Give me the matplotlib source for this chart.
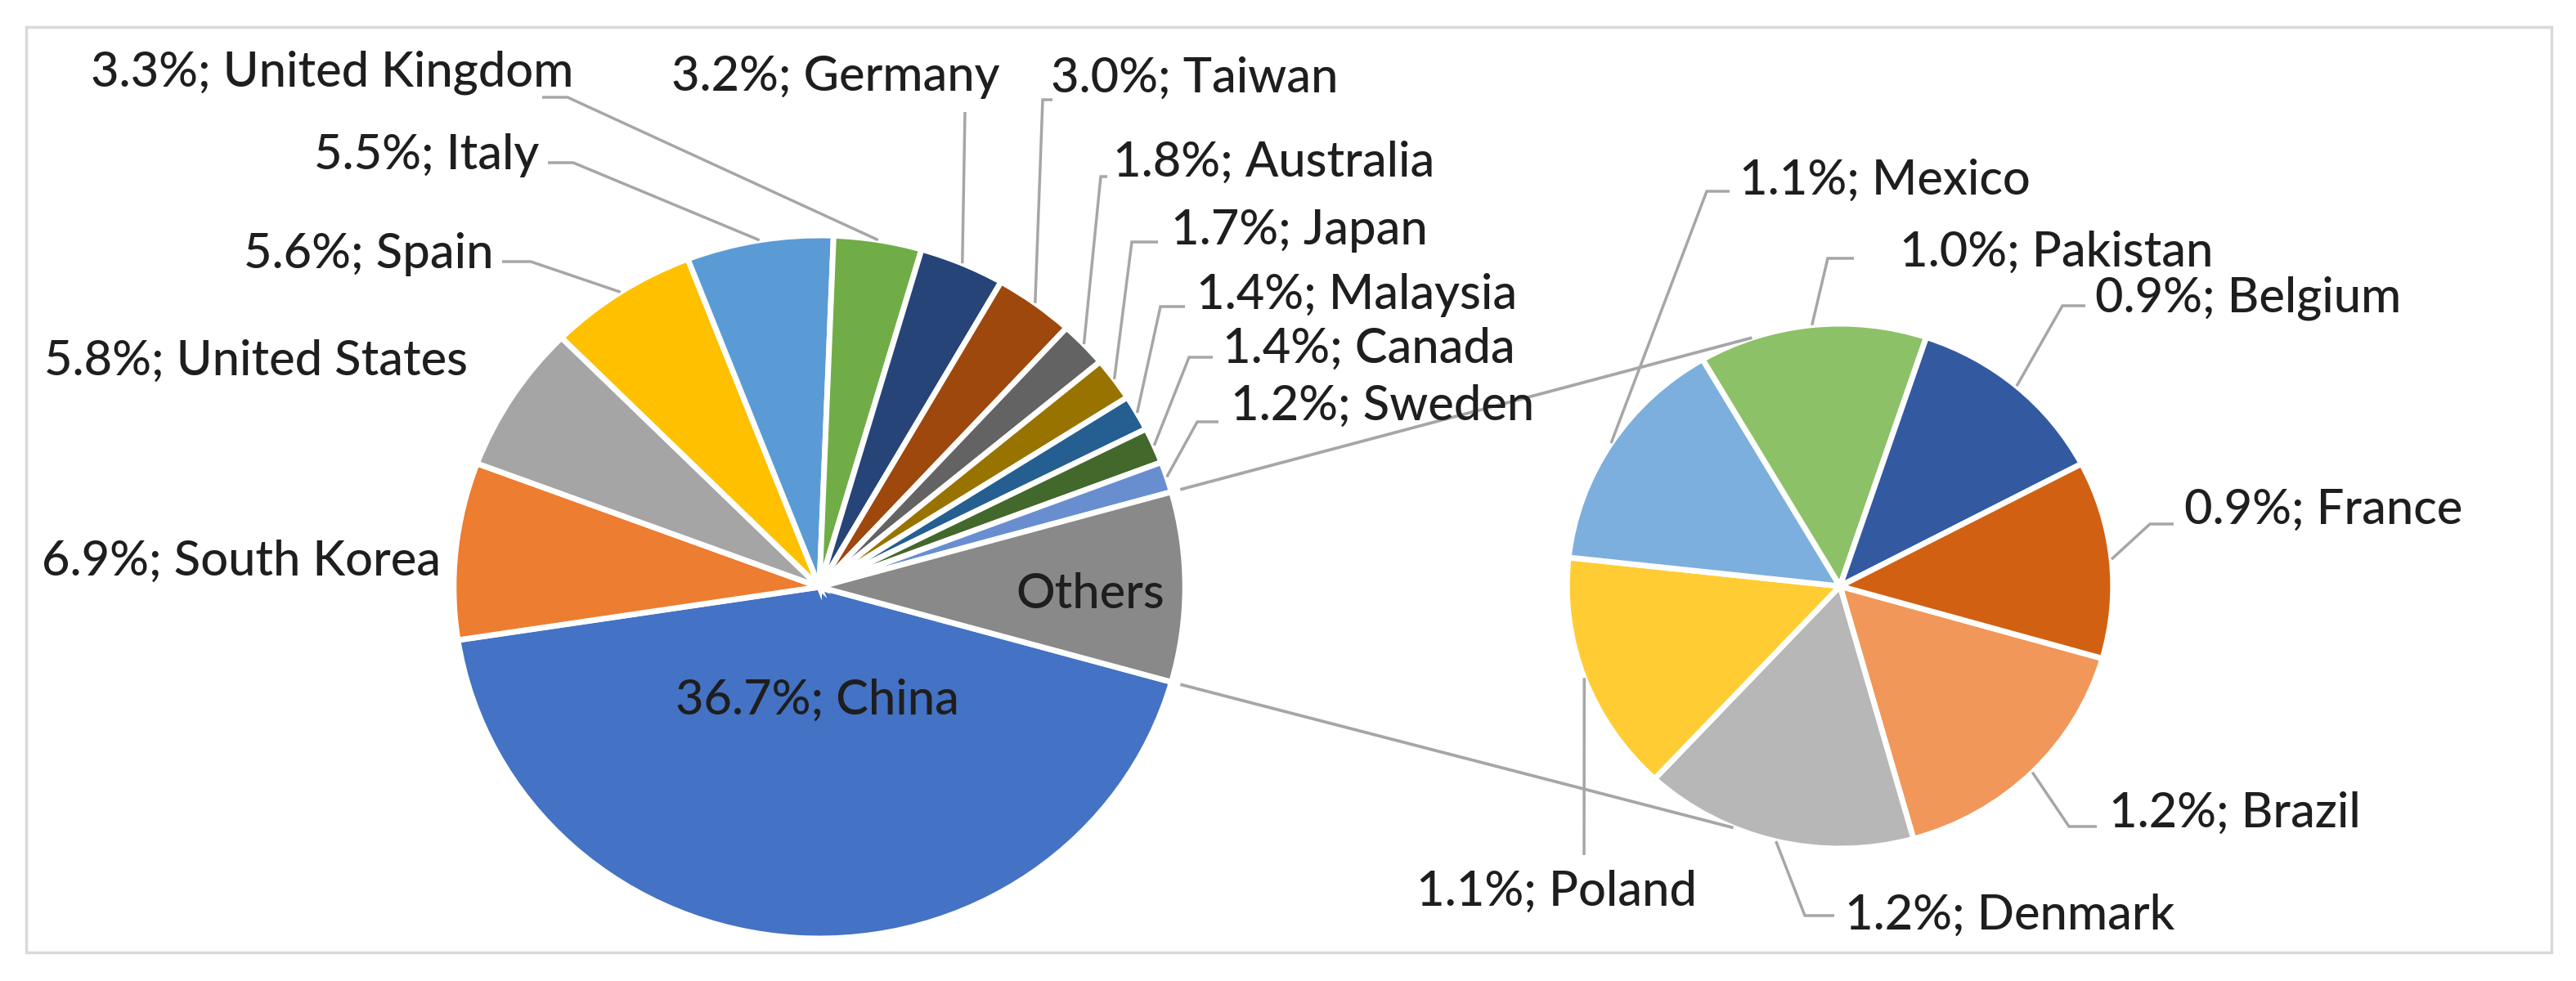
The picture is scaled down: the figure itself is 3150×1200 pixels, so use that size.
import matplotlib
matplotlib.use("Agg")
import matplotlib.pyplot as plt
from matplotlib.patches import Rectangle
import numpy as np

# ---------------- data ----------------
main_countries = ["China", "South Korea", "United States", "Spain", "Italy",
                  "United Kingdom", "Germany", "Taiwan", "Australia", "Japan",
                  "Malaysia", "Canada", "Sweden"]
main_shares = [36.7, 6.9, 5.8, 5.6, 5.5, 3.3, 3.2, 3.0, 1.8, 1.7, 1.4, 1.4, 1.2]
others_name = "Others"
sub_countries = ["Brazil", "Denmark", "Poland", "Mexico", "Pakistan", "Belgium", "France"]
sub_shares = [1.2, 1.2, 1.1, 1.1, 1.0, 0.9, 0.9]

# ---------------- style ----------------
main_colors = ["#4472C4", "#ED7D31", "#A5A5A5", "#FFC000", "#5B9BD5", "#70AD47",
               "#264478", "#9E480E", "#636363", "#997300", "#255E91", "#43682B",
               "#698ED0"]
others_color = "#898989"
sub_colors = ["#F1975A", "#B7B7B7", "#FFCD33", "#7CAFDD", "#8CC168", "#335AA1", "#D26012"]
TEXT_COLOR = "#1E1E1E"
LINE_COLOR = "#A6A6A6"
FONT = ["Lato", "DejaVu Sans"]

# ---------------- layout (pixel coordinates of the reference) ----------------
W, H = 3150, 1200
SX = 1.04                      # slight horizontal stretch seen in the reference
MAIN_C, MAIN_R = (1002, 718), 430
SUB_C, SUB_R = (2250, 717), 321
SUB_START = -16
CONNECT_ANGLES = (108.8, -113.0)

# label placement: anchor (x, y-centre), alignment, leader points near label
main_layout = {
    "China":          ((999, 853), "center", None),
    "South Korea":    ((539, 683), "right", None),
    "United States":  ((572, 438), "right", None),
    "Spain":          ((603, 307), "right", [(614, 320), (649, 320)]),
    "Italy":          ((659, 186), "right", [(670, 199), (701, 199)]),
    "United Kingdom": ((701, 85), "right", [(663, 119), (694, 119)]),
    "Germany":        ((821, 90), "left", [(1180, 137)]),
    "Taiwan":         ((1285, 92), "left", [(1287, 122), (1275, 122)]),
    "Australia":      ((1361, 195), "left", [(1354, 216), (1346, 216)]),
    "Japan":          ((1432, 278), "left", [(1416, 296), (1384, 296)]),
    "Malaysia":       ((1463, 357), "left", [(1449, 375), (1419, 375)]),
    "Canada":         ((1495, 423), "left", [(1483, 437), (1454, 437)]),
    "Sweden":         ((1505, 493), "left", [(1490, 516), (1464, 516)]),
    "Others":         ((1333, 723), "center", None),
}
sub_layout = {
    "Brazil":   ((2579, 991), "left", [(2564, 1011), (2530, 1011)]),
    "Denmark":  ((2256, 1116), "left", [(2243, 1120), (2207, 1120)]),
    "Poland":   ((1903, 1087), "center", [(1937, 1046)]),
    "Mexico":   ((2127, 217), "left", [(2115, 234), (2087, 234)]),
    "Pakistan": ((2323, 305), "left", [(2267, 316), (2235, 316)]),
    "Belgium":  ((2562, 360), "left", [(2550, 374), (2522, 374)]),
    "France":   ((2671, 620), "left", [(2658, 641), (2629, 641)]),
}


def P(x, y):
    return (x / SX, H - y)


fig = plt.figure(figsize=(W / 100, H / 100), dpi=100)
fig.patch.set_facecolor("white")
ax = fig.add_axes([0, 0, 1, 1])

# calibrate font size to the reference text width
probe = ax.text(0, 0, "3.3%; United Kingdom", fontsize=40, family=FONT,
                fontweight="medium")
fig.canvas.draw()
wpx = probe.get_window_extent(renderer=fig.canvas.get_renderer()).width
probe.remove()
FS = 40 * 589 / wpx
CAP_HALF = 21

others_total = sum(sub_shares)
vals = main_shares + [others_total]
start = -180.0 * others_total / sum(vals)

wp = dict(edgecolor="white", linewidth=5.0)
w_main, _ = ax.pie(vals, colors=main_colors + [others_color], startangle=start,
                   counterclock=False, center=P(*MAIN_C), radius=MAIN_R,
                   wedgeprops=wp, frame=True)
w_sub, _ = ax.pie(sub_shares, colors=sub_colors, startangle=SUB_START,
                  counterclock=False, center=P(*SUB_C), radius=SUB_R,
                  wedgeprops=wp, frame=True)

ax.set_xlim(0, W / SX)
ax.set_ylim(0, H)
ax.set_aspect("auto")
ax.axis("off")


def edge_point(wedge, angle=None, scale=1.0):
    cx, cy = wedge.center
    a = np.deg2rad((wedge.theta1 + wedge.theta2) / 2 if angle is None else angle)
    return (cx + scale * wedge.r * np.cos(a), cy + scale * wedge.r * np.sin(a))


def label(wedge, text, layout):
    (x, y), ha, leader = layout
    tx, ty = P(x, y + CAP_HALF)
    ax.text(tx, ty, text, ha=ha, va="baseline", fontsize=FS, family=FONT,
            fontweight="medium", color=TEXT_COLOR, zorder=5)
    if leader:
        pts = [P(*p) for p in leader] + [edge_point(wedge)]
        xs, ys = zip(*pts)
        ax.plot(xs, ys, color=LINE_COLOR, lw=2.5, solid_joinstyle="miter",
                solid_capstyle="butt", zorder=4)


names_main = main_countries + [others_name]
for wdg, name, v in zip(w_main, names_main, vals):
    txt = name if name == others_name else f"{v:.1f}%; {name}"
    label(wdg, txt, main_layout[name])

for wdg, name, v in zip(w_sub, sub_countries, sub_shares):
    label(wdg, f"{v:.1f}%; {name}", sub_layout[name])

# series lines connecting the "Others" slice to the second pie
ow = w_main[-1]
p_top = edge_point(ow, ow.theta2, 1.025)
p_bot = edge_point(ow, ow.theta1, 1.025)
s_top = edge_point(w_sub[0], CONNECT_ANGLES[0])
s_bot = edge_point(w_sub[0], CONNECT_ANGLES[1])
for a, b in ((p_top, s_top), (p_bot, s_bot)):
    ax.plot([a[0], b[0]], [a[1], b[1]], color=LINE_COLOR, lw=2.7,
            solid_capstyle="butt", zorder=3)

# chart-area frame
x0, y0 = P(32, 1165)
x1, y1 = P(3120, 33)
ax.add_patch(Rectangle((x0, y0), x1 - x0, y1 - y0, fill=False,
                       edgecolor="#D9D9D9", linewidth=2.5, zorder=1))

fig.savefig("out.png", dpi=100, facecolor="white")
